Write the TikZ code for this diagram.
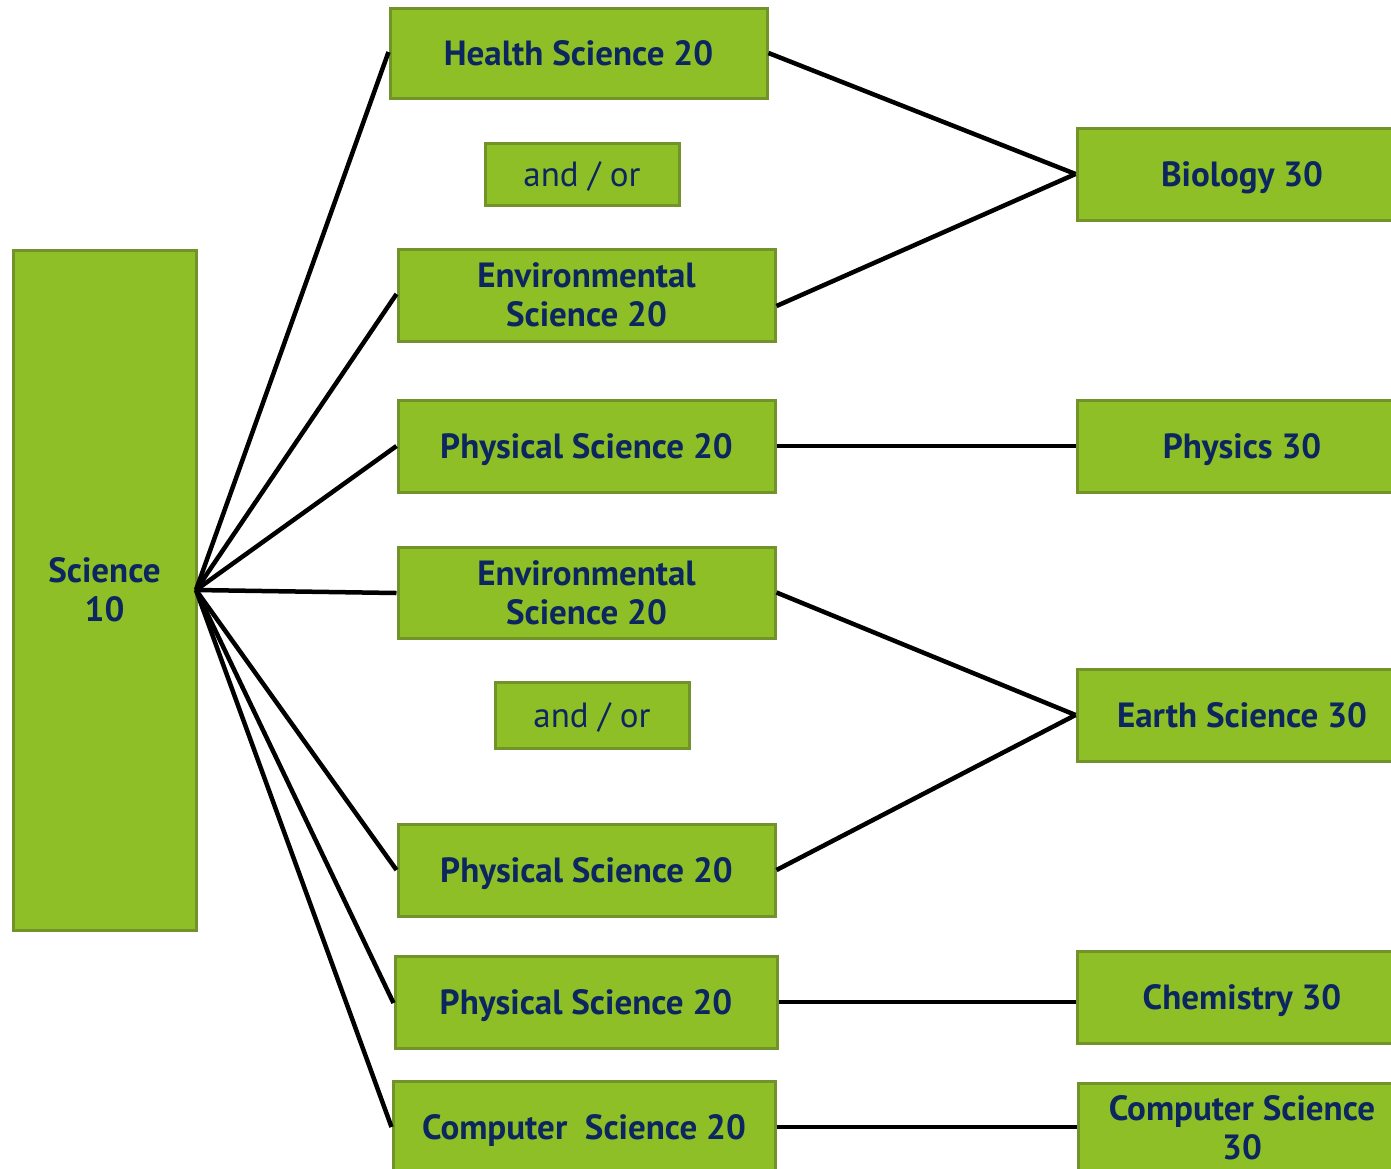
\documentclass[tikz,border=0pt]{standalone}
\usepackage{fontspec}
\setmainfont{PT Sans}
\usetikzlibrary{calc}
\definecolor{boxfill}{HTML}{8FBF26}
\definecolor{boxline}{HTML}{71932A}
\definecolor{txt}{HTML}{0C2660}
\begin{document}
\begin{tikzpicture}[x=1pt,y=-1pt,
  box/.style={draw=boxline, line width=3pt, fill=boxfill, text=txt, font=\fontsize{35}{39}\selectfont\bfseries, inner sep=0pt},
  ml/.style={align=center},
  one/.style={text height=24.5pt, text depth=0pt},
  orbox/.style={box, one, font=\fontsize{35}{39}\selectfont},
  lbl/.style={text=txt, font=\fontsize{35}{39}\selectfont\bfseries},
  link/.style={line width=4.5pt, black}]
\clip (0,0) rectangle (1391,1168);
\fill[white] (0,0) rectangle (1391,1168);
\node[box, ml, minimum width=183, minimum height=680] (sci) at (104.5,590) {Science\\10};
\node[box, one, minimum width=377, minimum height=90] (hs) at (578.5,53) {Health Science 20};
\node[orbox, minimum width=194, minimum height=62] (ao1) at (582,174) {and / or};
\node[box, ml, minimum width=377, minimum height=92] (env1) at (586.5,295) {Environmental\\Science 20};
\node[box, one, minimum width=377, minimum height=92] (ps1) at (586.5,446) {Physical Science 20};
\node[box, ml, minimum width=377, minimum height=91] (env2) at (586.5,592.5) {Environmental\\Science 20};
\node[orbox, minimum width=194, minimum height=66] (ao2) at (592,715) {and / or};
\node[box, one, minimum width=377, minimum height=92] (ps2) at (586.5,870) {Physical Science 20};
\node[box, one, minimum width=382, minimum height=92] (ps3) at (586,1002) {Physical Science 20};
\node[box, minimum width=382, minimum height=100, anchor=north] (cs20) at (584,1080) {};
\node[lbl, one] (cs20t) at (584,1127) {Computer\ \ Science 20};
\node[box, minimum width=340, minimum height=92] (bio) at (1247,174) {};
\node[lbl, one] (biot) at (1242,174) {Biology 30};
\node[box, minimum width=340, minimum height=92] (phy) at (1247,446) {};
\node[lbl, one] (phyt) at (1242,446) {Physics 30};
\node[box, minimum width=340, minimum height=92] (earth) at (1247,715) {};
\node[lbl, one] (eartht) at (1242,715) {Earth Science 30};
\node[box, minimum width=340, minimum height=92] (chem) at (1247,997) {};
\node[lbl, one] (chemt) at (1242,997) {Chemistry 30};
\node[box, minimum width=340, minimum height=100, anchor=north west] (cs30) at (1077,1082) {};
\node[lbl, ml] (cs30t) at (1242,1128) {Computer Science\\30};
\coordinate (hub) at (196,590);
\foreach \t/\y in {hs/52,env1/294,ps1/446,env2/593,ps2/870,ps3/1003,cs20/1127}
  \draw[link] (hub) -- (\t.west |- 0,\y);
\draw[link] (hs.east) -- (bio.west);
\draw[link] ($(env1.east)+(0,11)$) -- (bio.west);
\draw[link] (ps1.east) -- (phy.west);
\draw[link] (env2.east) -- (earth.west);
\draw[link] (ps2.east) -- (earth.west);
\draw[link] (ps3.east) -- (ps3.east -| chem.west);
\draw[link] (cs20.east |- 0,1127) -- (cs30.west |- 0,1127);
\end{tikzpicture}
\end{document}
